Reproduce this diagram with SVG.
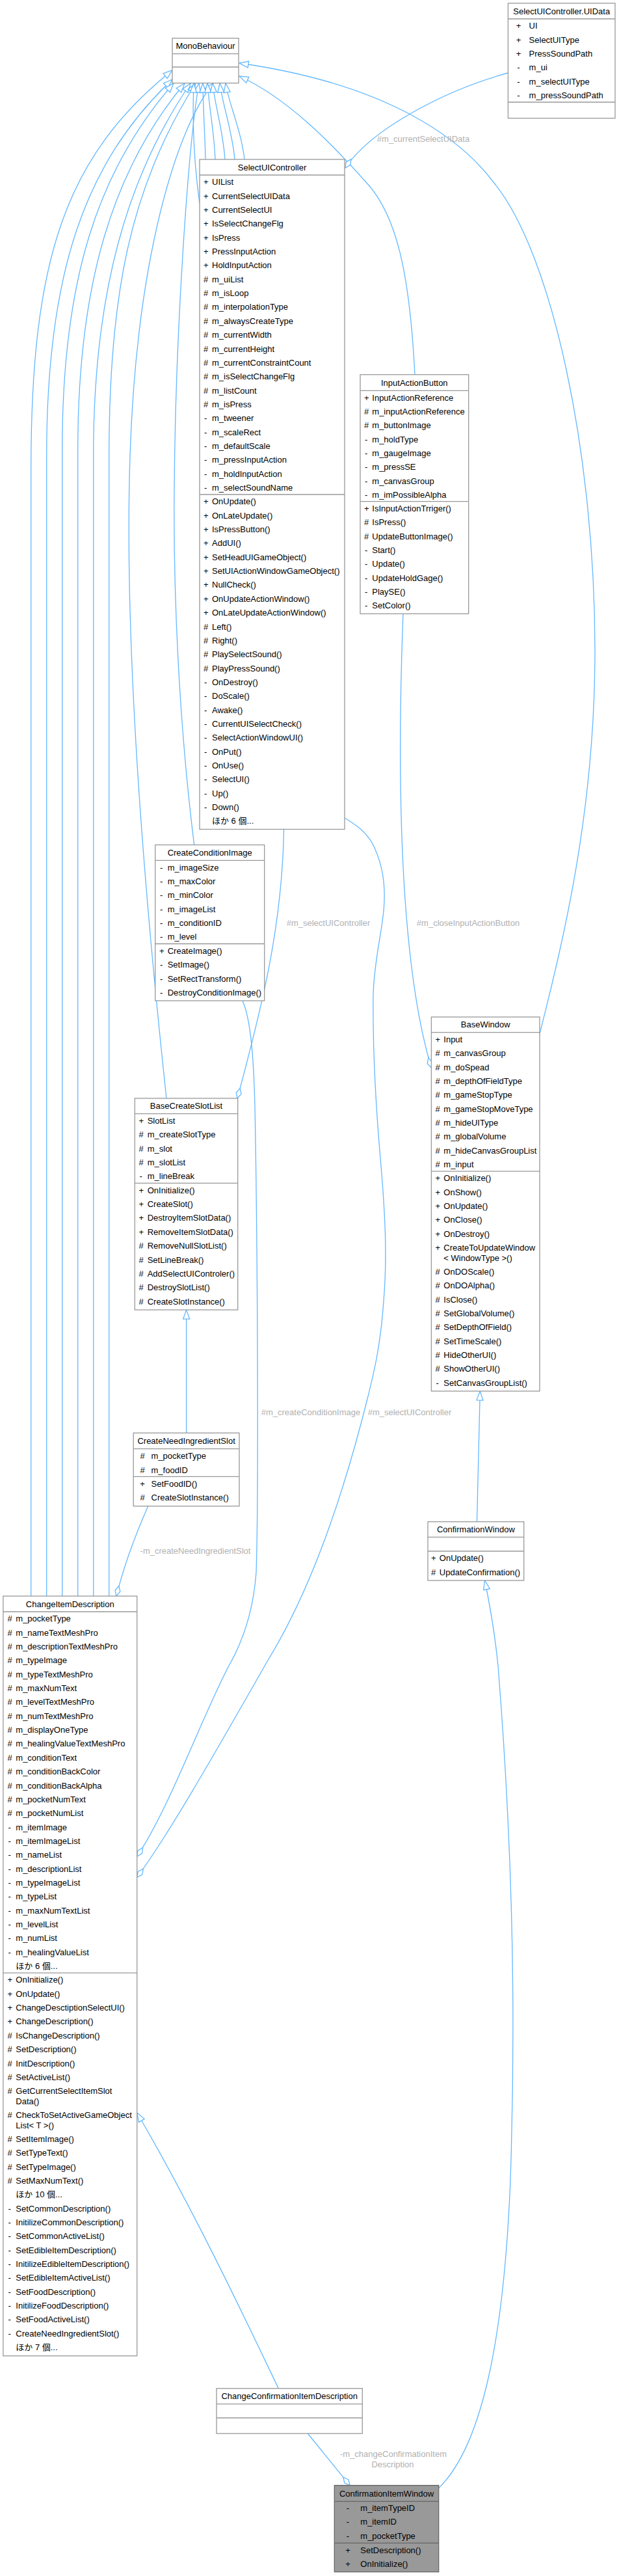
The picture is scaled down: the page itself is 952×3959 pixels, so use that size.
<svg xmlns="http://www.w3.org/2000/svg" width="952" height="3959" viewBox="0 0 952 3959">
<style>
.n{fill:#fff;stroke:#999;stroke-width:1.3}
.hl{fill:#999;stroke:#666;stroke-width:1.3}
.s{fill:none;stroke:#999;stroke-width:1.3}
.hs{fill:none;stroke:#666;stroke-width:1.3}
.t{font-family:"Liberation Sans",Arial,"Noto Sans CJK JP",sans-serif;font-size:13px;fill:#000}
.c{text-anchor:middle}
.lb{font-family:"Liberation Sans",Arial,sans-serif;font-size:13px;fill:#b0b0b0;text-anchor:middle}
.e{fill:none;stroke:#63b8ff;stroke-width:1.3}
.i{marker-end:url(#inh)}
.a{marker-end:url(#agg)}
</style>
<defs>
<marker id="inh" markerUnits="userSpaceOnUse" markerWidth="16" markerHeight="12" viewBox="0 0 16 12" refX="14.5" refY="6" orient="auto" overflow="visible"><path d="M0.5,1 L14.5,6 L0.5,11 Z" fill="#fff" stroke="#63b8ff" stroke-width="1.3"/></marker>
<marker id="agg" markerUnits="userSpaceOnUse" markerWidth="18" markerHeight="10" viewBox="0 0 18 10" refX="16.5" refY="5" orient="auto" overflow="visible"><path d="M0.5,5 L8.5,1 L16.5,5 L8.5,9 Z" fill="#fff" stroke="#63b8ff" stroke-width="1.3"/></marker>
</defs>
<rect width="952" height="3959" fill="#fff"/>
<g id="connectors">
<path class="e i" d="M47.7,2453V720C47.7,400 100,240 265,108"/>
<path class="e i" d="M71.7,2453V700C71.7,420 130,250 265,122"/>
<path class="e i" d="M95.7,2453V690C95.7,430 150,262 267,128"/>
<path class="e i" d="M119.7,2453V690C119.7,440 172,262 284,128"/>
<path class="e i" d="M143.7,2453V700C143.7,450 195,272 293,128"/>
<path class="e i" d="M167.7,2453V700C167.7,460 198,290 301,128"/>
<path class="e i" d="M256,1688C225,1400 190,1000 200,700C210,400 270,200 328,128"/>
<path class="e i" d="M298.7,1298.5C280,1150 266,950 268,750C270,500 290,220 306,128"/>
<path class="e i" d="M307,313C300,262 295,200 298,128"/>
<path class="e i" d="M316,245C315,200 312,160 312,128"/>
<path class="e i" d="M331,245C329,200 321,160 319,128"/>
<path class="e i" d="M346,245C343,200 330,160 327,128"/>
<path class="e i" d="M361,245C357,200 342,160 338,128"/>
<path class="e i" d="M376,245C371,200 352,160 347,128"/>
<path class="e i" d="M638,575.7C630,420 610,330 563,280C505,215 440,150 368,117"/>
<path class="e i" d="M830,1589C865,1450 915,1250 915,1000C915,700 850,390 759,280C710,215 600,130 368,97"/>
<path class="e i" d="M286.6,2202.3V2013.1"/>
<path class="e i" d="M733.5,2338.7L738.3,2138"/>
<path class="e i" d="M674.7,3824C740,3760 775,3600 785,3350C795,3050 785,2800 766,2560C760,2500 752,2460 745.6,2429"/>
<path class="e i" d="M428.3,3670.7C380,3570 300,3400 210.7,3247"/>
<path class="e a" d="M781.4,112C680,140 570,200 531,258"/>
<path class="e a" d="M436.6,1274.5C434,1420 405,1540 365,1688"/>
<path class="e a" d="M620,943.3C610,1200 615,1480 663.4,1641"/>
<path class="e a" d="M530,1257C548,1268 562,1278 572,1295C588,1325 594,1360 590,1400C586,1440 575,1480 574,1530C573,1620 578,1700 585,1780C592,1860 596,1930 590,2000C585,2070 575,2110 565,2150C530,2290 480,2440 413,2550C350,2660 260,2820 210.7,2885"/>
<path class="e a" d="M373,1538C385,1565 390,1620 392,1700C396,1900 398,2300 394,2417C390,2470 375,2520 352,2560C310,2640 260,2780 210.7,2853"/>
<path class="e a" d="M227.7,2314.7C210,2355 192,2400 179,2453"/>
<path class="e a" d="M473.3,3740L538,3819.7"/>
<text class="lb" x="651" y="217.9">#m_currentSelectUIData</text>
<text class="lb" x="505" y="1422.9">#m_selectUIController</text>
<text class="lb" x="720" y="1422.9">#m_closeInputActionButton</text>
<text class="lb" x="478" y="2175.3">#m_createConditionImage</text>
<text class="lb" x="630" y="2175.3">#m_selectUIController</text>
<text class="lb" x="300.5" y="2387.9">-m_createNeedIngredientSlot</text>
<text class="lb" x="605" y="3776.3">-m_changeConfirmationItem</text>
<text class="lb" x="604" y="3792.3">Description</text>
</g>
<g id="MonoBehaviour">
<rect class="n" x="265" y="58.7" width="102" height="69"/>
<path class="s" d="M265,82.7H367M265,103H367"/>
<text class="t c" x="316" y="75.3">MonoBehaviour</text>
</g>
<g id="SelectUIController.UIData">
<rect class="n" x="781.4" y="5" width="164.6" height="176.7"/>
<path class="s" d="M781.4,29H946M781.4,157H946"/>
<text class="t c" x="863.7" y="21.6">SelectUIController.UIData</text>
<text class="t c" x="797.5" y="44.3"><tspan x="797.5">+</tspan><tspan x="797.5" dy="21.35">+</tspan><tspan x="797.5" dy="21.35">+</tspan><tspan x="797.5" dy="21.35">-</tspan><tspan x="797.5" dy="21.35">-</tspan><tspan x="797.5" dy="21.35">-</tspan></text>
<text class="t" x="813.6" y="44.3"><tspan x="813.6">UI</tspan><tspan x="813.6" dy="21.35">SelectUIType</tspan><tspan x="813.6" dy="21.35">PressSoundPath</tspan><tspan x="813.6" dy="21.35">m_ui</tspan><tspan x="813.6" dy="21.35">m_selectUIType</tspan><tspan x="813.6" dy="21.35">m_pressSoundPath</tspan></text>
</g>
<g id="SelectUIController">
<rect class="n" x="307" y="245" width="223" height="1029.5"/>
<path class="s" d="M307,269H530M307,760H530"/>
<text class="t c" x="418.5" y="261.6">SelectUIController</text>
<text class="t" x="313" y="284.3"><tspan x="313">+</tspan><tspan x="313" dy="21.35">+</tspan><tspan x="313" dy="21.35">+</tspan><tspan x="313" dy="21.35">+</tspan><tspan x="313" dy="21.35">+</tspan><tspan x="313" dy="21.35">+</tspan><tspan x="313" dy="21.35">+</tspan><tspan x="313" dy="21.35">#</tspan><tspan x="313" dy="21.35">#</tspan><tspan x="313" dy="21.35">#</tspan><tspan x="313" dy="21.35">#</tspan><tspan x="313" dy="21.35">#</tspan><tspan x="313" dy="21.35">#</tspan><tspan x="313" dy="21.35">#</tspan><tspan x="313" dy="21.35">#</tspan><tspan x="313" dy="21.35">#</tspan><tspan x="313" dy="21.35">#</tspan><tspan x="314" dy="21.35">-</tspan><tspan x="314" dy="21.35">-</tspan><tspan x="314" dy="21.35">-</tspan><tspan x="314" dy="21.35">-</tspan><tspan x="314" dy="21.35">-</tspan><tspan x="314" dy="21.35">-</tspan></text>
<text class="t" x="326" y="284.3"><tspan x="326">UIList</tspan><tspan x="326" dy="21.35">CurrentSelectUIData</tspan><tspan x="326" dy="21.35">CurrentSelectUI</tspan><tspan x="326" dy="21.35">IsSelectChangeFlg</tspan><tspan x="326" dy="21.35">IsPress</tspan><tspan x="326" dy="21.35">PressInputAction</tspan><tspan x="326" dy="21.35">HoldInputAction</tspan><tspan x="326" dy="21.35">m_uiList</tspan><tspan x="326" dy="21.35">m_isLoop</tspan><tspan x="326" dy="21.35">m_interpolationType</tspan><tspan x="326" dy="21.35">m_alwaysCreateType</tspan><tspan x="326" dy="21.35">m_currentWidth</tspan><tspan x="326" dy="21.35">m_currentHeight</tspan><tspan x="326" dy="21.35">m_currentConstraintCount</tspan><tspan x="326" dy="21.35">m_isSelectChangeFlg</tspan><tspan x="326" dy="21.35">m_listCount</tspan><tspan x="326" dy="21.35">m_isPress</tspan><tspan x="326" dy="21.35">m_tweener</tspan><tspan x="326" dy="21.35">m_scaleRect</tspan><tspan x="326" dy="21.35">m_defaultScale</tspan><tspan x="326" dy="21.35">m_pressInputAction</tspan><tspan x="326" dy="21.35">m_holdInputAction</tspan><tspan x="326" dy="21.35">m_selectSoundName</tspan></text>
<text class="t" x="313" y="775.35"><tspan x="313">+</tspan><tspan x="313" dy="21.35">+</tspan><tspan x="313" dy="21.35">+</tspan><tspan x="313" dy="21.35">+</tspan><tspan x="313" dy="21.35">+</tspan><tspan x="313" dy="21.35">+</tspan><tspan x="313" dy="21.35">+</tspan><tspan x="313" dy="21.35">+</tspan><tspan x="313" dy="21.35">+</tspan><tspan x="313" dy="21.35">#</tspan><tspan x="313" dy="21.35">#</tspan><tspan x="313" dy="21.35">#</tspan><tspan x="313" dy="21.35">#</tspan><tspan x="314" dy="21.35">-</tspan><tspan x="314" dy="21.35">-</tspan><tspan x="314" dy="21.35">-</tspan><tspan x="314" dy="21.35">-</tspan><tspan x="314" dy="21.35">-</tspan><tspan x="314" dy="21.35">-</tspan><tspan x="314" dy="21.35">-</tspan><tspan x="314" dy="21.35">-</tspan><tspan x="314" dy="21.35">-</tspan><tspan x="314" dy="21.35">-</tspan></text>
<text class="t" x="326" y="775.35"><tspan x="326">OnUpdate()</tspan><tspan x="326" dy="21.35">OnLateUpdate()</tspan><tspan x="326" dy="21.35">IsPressButton()</tspan><tspan x="326" dy="21.35">AddUI()</tspan><tspan x="326" dy="21.35">SetHeadUIGameObject()</tspan><tspan x="326" dy="21.35">SetUIActionWindowGameObject()</tspan><tspan x="326" dy="21.35">NullCheck()</tspan><tspan x="326" dy="21.35">OnUpdateActionWindow()</tspan><tspan x="326" dy="21.35">OnLateUpdateActionWindow()</tspan><tspan x="326" dy="21.35">Left()</tspan><tspan x="326" dy="21.35">Right()</tspan><tspan x="326" dy="21.35">PlaySelectSound()</tspan><tspan x="326" dy="21.35">PlayPressSound()</tspan><tspan x="326" dy="21.35">OnDestroy()</tspan><tspan x="326" dy="21.35">DoScale()</tspan><tspan x="326" dy="21.35">Awake()</tspan><tspan x="326" dy="21.35">CurrentUISelectCheck()</tspan><tspan x="326" dy="21.35">SelectActionWindowUI()</tspan><tspan x="326" dy="21.35">OnPut()</tspan><tspan x="326" dy="21.35">OnUse()</tspan><tspan x="326" dy="21.35">SelectUI()</tspan><tspan x="326" dy="21.35">Up()</tspan><tspan x="326" dy="21.35">Down()</tspan><tspan x="326" dy="21.35">ほか 6 個...</tspan></text>
</g>
<g id="InputActionButton">
<rect class="n" x="554" y="575.7" width="166.7" height="367.6"/>
<path class="s" d="M554,600.3H720.7M554,770.7H720.7"/>
<text class="t c" x="637.3" y="592.6">InputActionButton</text>
<text class="t" x="560" y="615.6"><tspan x="560">+</tspan><tspan x="560" dy="21.35">#</tspan><tspan x="560" dy="21.35">#</tspan><tspan x="561" dy="21.35">-</tspan><tspan x="561" dy="21.35">-</tspan><tspan x="561" dy="21.35">-</tspan><tspan x="561" dy="21.35">-</tspan><tspan x="561" dy="21.35">-</tspan></text>
<text class="t" x="572.3" y="615.6"><tspan x="572.3">InputActionReference</tspan><tspan x="572.3" dy="21.35">m_inputActionReference</tspan><tspan x="572.3" dy="21.35">m_buttonImage</tspan><tspan x="572.3" dy="21.35">m_holdType</tspan><tspan x="572.3" dy="21.35">m_gaugeImage</tspan><tspan x="572.3" dy="21.35">m_pressSE</tspan><tspan x="572.3" dy="21.35">m_canvasGroup</tspan><tspan x="572.3" dy="21.35">m_imPossibleAlpha</tspan></text>
<text class="t" x="560" y="786"><tspan x="560">+</tspan><tspan x="560" dy="21.35">#</tspan><tspan x="560" dy="21.35">#</tspan><tspan x="561" dy="21.35">-</tspan><tspan x="561" dy="21.35">-</tspan><tspan x="561" dy="21.35">-</tspan><tspan x="561" dy="21.35">-</tspan><tspan x="561" dy="21.35">-</tspan></text>
<text class="t" x="572.3" y="786"><tspan x="572.3">IsInputActionTrriger()</tspan><tspan x="572.3" dy="21.35">IsPress()</tspan><tspan x="572.3" dy="21.35">UpdateButtonImage()</tspan><tspan x="572.3" dy="21.35">Start()</tspan><tspan x="572.3" dy="21.35">Update()</tspan><tspan x="572.3" dy="21.35">UpdateHoldGage()</tspan><tspan x="572.3" dy="21.35">PlaySE()</tspan><tspan x="572.3" dy="21.35">SetColor()</tspan></text>
</g>
<g id="CreateConditionImage">
<rect class="n" x="238.7" y="1298.5" width="168" height="239.5"/>
<path class="s" d="M238.7,1322.4H406.7M238.7,1450.5H406.7"/>
<text class="t c" x="322.7" y="1315.1">CreateConditionImage</text>
<text class="t" x="246" y="1337.7"><tspan x="246">-</tspan><tspan x="246" dy="21.35">-</tspan><tspan x="246" dy="21.35">-</tspan><tspan x="246" dy="21.35">-</tspan><tspan x="246" dy="21.35">-</tspan><tspan x="246" dy="21.35">-</tspan></text>
<text class="t" x="257.7" y="1337.7"><tspan x="257.7">m_imageSize</tspan><tspan x="257.7" dy="21.35">m_maxColor</tspan><tspan x="257.7" dy="21.35">m_minColor</tspan><tspan x="257.7" dy="21.35">m_imageList</tspan><tspan x="257.7" dy="21.35">m_conditionID</tspan><tspan x="257.7" dy="21.35">m_level</tspan></text>
<text class="t" x="245" y="1465.8"><tspan x="245">+</tspan><tspan x="246" dy="21.35">-</tspan><tspan x="246" dy="21.35">-</tspan><tspan x="246" dy="21.35">-</tspan></text>
<text class="t" x="257.7" y="1465.8"><tspan x="257.7">CreateImage()</tspan><tspan x="257.7" dy="21.35">SetImage()</tspan><tspan x="257.7" dy="21.35">SetRectTransform()</tspan><tspan x="257.7" dy="21.35">DestroyConditionImage()</tspan></text>
</g>
<g id="BaseCreateSlotList">
<rect class="n" x="207.3" y="1688" width="158.4" height="325.1"/>
<path class="s" d="M207.3,1711.7H365.7M207.3,1818.45H365.7"/>
<text class="t c" x="286.5" y="1704.45">BaseCreateSlotList</text>
<text class="t" x="213.5" y="1727"><tspan x="213.5">+</tspan><tspan x="213.5" dy="21.35">#</tspan><tspan x="213.5" dy="21.35">#</tspan><tspan x="213.5" dy="21.35">#</tspan><tspan x="214.5" dy="21.35">-</tspan></text>
<text class="t" x="226.7" y="1727"><tspan x="226.7">SlotList</tspan><tspan x="226.7" dy="21.35">m_createSlotType</tspan><tspan x="226.7" dy="21.35">m_slot</tspan><tspan x="226.7" dy="21.35">m_slotList</tspan><tspan x="226.7" dy="21.35">m_lineBreak</tspan></text>
<text class="t" x="213.5" y="1833.75"><tspan x="213.5">+</tspan><tspan x="213.5" dy="21.35">+</tspan><tspan x="213.5" dy="21.35">+</tspan><tspan x="213.5" dy="21.35">+</tspan><tspan x="213.5" dy="21.35">#</tspan><tspan x="213.5" dy="21.35">#</tspan><tspan x="213.5" dy="21.35">#</tspan><tspan x="213.5" dy="21.35">#</tspan><tspan x="213.5" dy="21.35">#</tspan></text>
<text class="t" x="226.7" y="1833.75"><tspan x="226.7">OnInitialize()</tspan><tspan x="226.7" dy="21.35">CreateSlot()</tspan><tspan x="226.7" dy="21.35">DestroyItemSlotData()</tspan><tspan x="226.7" dy="21.35">RemoveItemSlotData()</tspan><tspan x="226.7" dy="21.35">RemoveNullSlotList()</tspan><tspan x="226.7" dy="21.35">SetLineBreak()</tspan><tspan x="226.7" dy="21.35">AddSelectUIControler()</tspan><tspan x="226.7" dy="21.35">DestroySlotList()</tspan><tspan x="226.7" dy="21.35">CreateSlotInstance()</tspan></text>
</g>
<g id="BaseWindow">
<rect class="n" x="663.4" y="1563" width="166.6" height="575"/>
<path class="s" d="M663.4,1586.6H830M663.4,1800.1H830"/>
<text class="t c" x="746.7" y="1579.4">BaseWindow</text>
<text class="t" x="669.5" y="1601.9"><tspan x="669.5">+</tspan><tspan x="669.5" dy="21.35">#</tspan><tspan x="669.5" dy="21.35">#</tspan><tspan x="669.5" dy="21.35">#</tspan><tspan x="669.5" dy="21.35">#</tspan><tspan x="669.5" dy="21.35">#</tspan><tspan x="669.5" dy="21.35">#</tspan><tspan x="669.5" dy="21.35">#</tspan><tspan x="669.5" dy="21.35">#</tspan><tspan x="669.5" dy="21.35">#</tspan></text>
<text class="t" x="682.3" y="1601.9"><tspan x="682.3">Input</tspan><tspan x="682.3" dy="21.35">m_canvasGroup</tspan><tspan x="682.3" dy="21.35">m_doSpead</tspan><tspan x="682.3" dy="21.35">m_depthOfFieldType</tspan><tspan x="682.3" dy="21.35">m_gameStopType</tspan><tspan x="682.3" dy="21.35">m_gameStopMoveType</tspan><tspan x="682.3" dy="21.35">m_hideUIType</tspan><tspan x="682.3" dy="21.35">m_globalVolume</tspan><tspan x="682.3" dy="21.35">m_hideCanvasGroupList</tspan><tspan x="682.3" dy="21.35">m_input</tspan></text>
<text class="t" x="669.5" y="1815.4"><tspan x="669.5">+</tspan><tspan x="669.5" dy="21.35">+</tspan><tspan x="669.5" dy="21.35">+</tspan><tspan x="669.5" dy="21.35">+</tspan><tspan x="669.5" dy="21.35">+</tspan><tspan x="669.5" dy="21.35">+</tspan><tspan x="669.5" dy="36.85">#</tspan><tspan x="669.5" dy="21.35">#</tspan><tspan x="669.5" dy="21.35">#</tspan><tspan x="669.5" dy="21.35">#</tspan><tspan x="669.5" dy="21.35">#</tspan><tspan x="669.5" dy="21.35">#</tspan><tspan x="669.5" dy="21.35">#</tspan><tspan x="669.5" dy="21.35">#</tspan><tspan x="670.5" dy="21.35">-</tspan></text>
<text class="t" x="682.3" y="1815.4"><tspan x="682.3">OnInitialize()</tspan><tspan x="682.3" dy="21.35">OnShow()</tspan><tspan x="682.3" dy="21.35">OnUpdate()</tspan><tspan x="682.3" dy="21.35">OnClose()</tspan><tspan x="682.3" dy="21.35">OnDestroy()</tspan><tspan x="682.3" dy="21.35">CreateToUpdateWindow</tspan><tspan x="682.3" dy="15.5">&lt; WindowType &gt;()</tspan><tspan x="682.3" dy="21.35">OnDOScale()</tspan><tspan x="682.3" dy="21.35">OnDOAlpha()</tspan><tspan x="682.3" dy="21.35">IsClose()</tspan><tspan x="682.3" dy="21.35">SetGlobalVolume()</tspan><tspan x="682.3" dy="21.35">SetDepthOfField()</tspan><tspan x="682.3" dy="21.35">SetTimeScale()</tspan><tspan x="682.3" dy="21.35">HideOtherUI()</tspan><tspan x="682.3" dy="21.35">ShowOtherUI()</tspan><tspan x="682.3" dy="21.35">SetCanvasGroupList()</tspan></text>
</g>
<g id="CreateNeedIngredientSlot">
<rect class="n" x="205.2" y="2202.3" width="162.8" height="112.4"/>
<path class="s" d="M205.2,2226.7H368M205.2,2269.4H368"/>
<text class="t c" x="286.6" y="2219.1">CreateNeedIngredientSlot</text>
<text class="t c" x="219" y="2242.3"><tspan x="219">#</tspan><tspan x="219" dy="21.35">#</tspan></text>
<text class="t" x="232.5" y="2242.3"><tspan x="232.5">m_pocketType</tspan><tspan x="232.5" dy="21.35">m_foodID</tspan></text>
<text class="t c" x="219" y="2284.7"><tspan x="219">+</tspan><tspan x="219" dy="21.35">#</tspan></text>
<text class="t" x="232.5" y="2284.7"><tspan x="232.5">SetFoodID()</tspan><tspan x="232.5" dy="21.35">CreateSlotInstance()</tspan></text>
</g>
<g id="ConfirmationWindow">
<rect class="n" x="658" y="2338.7" width="147.7" height="90.3"/>
<path class="s" d="M658,2362.3H805.7M658,2384H805.7"/>
<text class="t c" x="731.85" y="2355.1">ConfirmationWindow</text>
<text class="t" x="663" y="2399.3"><tspan x="663">+</tspan><tspan x="663" dy="21.35">#</tspan></text>
<text class="t" x="675.8" y="2399.3"><tspan x="675.8">OnUpdate()</tspan><tspan x="675.8" dy="21.35">UpdateConfirmation()</tspan></text>
</g>
<g id="ChangeItemDescription">
<rect class="n" x="4.9" y="2453" width="205.8" height="1167.7"/>
<path class="s" d="M4.9,2477H210.7M4.9,3032.1H210.7"/>
<text class="t c" x="107.8" y="2469.6">ChangeItemDescription</text>
<text class="t" x="11.5" y="2492.3"><tspan x="11.5">#</tspan><tspan x="11.5" dy="21.35">#</tspan><tspan x="11.5" dy="21.35">#</tspan><tspan x="11.5" dy="21.35">#</tspan><tspan x="11.5" dy="21.35">#</tspan><tspan x="11.5" dy="21.35">#</tspan><tspan x="11.5" dy="21.35">#</tspan><tspan x="11.5" dy="21.35">#</tspan><tspan x="11.5" dy="21.35">#</tspan><tspan x="11.5" dy="21.35">#</tspan><tspan x="11.5" dy="21.35">#</tspan><tspan x="11.5" dy="21.35">#</tspan><tspan x="11.5" dy="21.35">#</tspan><tspan x="11.5" dy="21.35">#</tspan><tspan x="11.5" dy="21.35">#</tspan><tspan x="12.5" dy="21.35">-</tspan><tspan x="12.5" dy="21.35">-</tspan><tspan x="12.5" dy="21.35">-</tspan><tspan x="12.5" dy="21.35">-</tspan><tspan x="12.5" dy="21.35">-</tspan><tspan x="12.5" dy="21.35">-</tspan><tspan x="12.5" dy="21.35">-</tspan><tspan x="12.5" dy="21.35">-</tspan><tspan x="12.5" dy="21.35">-</tspan><tspan x="12.5" dy="21.35">-</tspan></text>
<text class="t" x="24.3" y="2492.3"><tspan x="24.3">m_pocketType</tspan><tspan x="24.3" dy="21.35">m_nameTextMeshPro</tspan><tspan x="24.3" dy="21.35">m_descriptionTextMeshPro</tspan><tspan x="24.3" dy="21.35">m_typeImage</tspan><tspan x="24.3" dy="21.35">m_typeTextMeshPro</tspan><tspan x="24.3" dy="21.35">m_maxNumText</tspan><tspan x="24.3" dy="21.35">m_levelTextMeshPro</tspan><tspan x="24.3" dy="21.35">m_numTextMeshPro</tspan><tspan x="24.3" dy="21.35">m_displayOneType</tspan><tspan x="24.3" dy="21.35">m_healingValueTextMeshPro</tspan><tspan x="24.3" dy="21.35">m_conditionText</tspan><tspan x="24.3" dy="21.35">m_conditionBackColor</tspan><tspan x="24.3" dy="21.35">m_conditionBackAlpha</tspan><tspan x="24.3" dy="21.35">m_pocketNumText</tspan><tspan x="24.3" dy="21.35">m_pocketNumList</tspan><tspan x="24.3" dy="21.35">m_itemImage</tspan><tspan x="24.3" dy="21.35">m_itemImageList</tspan><tspan x="24.3" dy="21.35">m_nameList</tspan><tspan x="24.3" dy="21.35">m_descriptionList</tspan><tspan x="24.3" dy="21.35">m_typeImageList</tspan><tspan x="24.3" dy="21.35">m_typeList</tspan><tspan x="24.3" dy="21.35">m_maxNumTextList</tspan><tspan x="24.3" dy="21.35">m_levelList</tspan><tspan x="24.3" dy="21.35">m_numList</tspan><tspan x="24.3" dy="21.35">m_healingValueList</tspan><tspan x="24.3" dy="21.35">ほか 6 個...</tspan></text>
<text class="t" x="11.5" y="3047.4"><tspan x="11.5">+</tspan><tspan x="11.5" dy="21.35">+</tspan><tspan x="11.5" dy="21.35">+</tspan><tspan x="11.5" dy="21.35">+</tspan><tspan x="11.5" dy="21.35">#</tspan><tspan x="11.5" dy="21.35">#</tspan><tspan x="11.5" dy="21.35">#</tspan><tspan x="11.5" dy="21.35">#</tspan><tspan x="11.5" dy="21.35">#</tspan><tspan x="11.5" dy="36.85">#</tspan><tspan x="11.5" dy="36.85">#</tspan><tspan x="11.5" dy="21.35">#</tspan><tspan x="11.5" dy="21.35">#</tspan><tspan x="11.5" dy="21.35">#</tspan><tspan x="12.5" dy="42.7">-</tspan><tspan x="12.5" dy="21.35">-</tspan><tspan x="12.5" dy="21.35">-</tspan><tspan x="12.5" dy="21.35">-</tspan><tspan x="12.5" dy="21.35">-</tspan><tspan x="12.5" dy="21.35">-</tspan><tspan x="12.5" dy="21.35">-</tspan><tspan x="12.5" dy="21.35">-</tspan><tspan x="12.5" dy="21.35">-</tspan><tspan x="12.5" dy="21.35">-</tspan></text>
<text class="t" x="24.3" y="3047.4"><tspan x="24.3">OnInitialize()</tspan><tspan x="24.3" dy="21.35">OnUpdate()</tspan><tspan x="24.3" dy="21.35">ChangeDesctiptionSelectUI()</tspan><tspan x="24.3" dy="21.35">ChangeDescription()</tspan><tspan x="24.3" dy="21.35">IsChangeDescription()</tspan><tspan x="24.3" dy="21.35">SetDescription()</tspan><tspan x="24.3" dy="21.35">InitDescription()</tspan><tspan x="24.3" dy="21.35">SetActiveList()</tspan><tspan x="24.3" dy="21.35">GetCurrentSelectItemSlot</tspan><tspan x="24.3" dy="15.5">Data()</tspan><tspan x="24.3" dy="21.35">CheckToSetActiveGameObject</tspan><tspan x="24.3" dy="15.5">List&lt; T &gt;()</tspan><tspan x="24.3" dy="21.35">SetItemImage()</tspan><tspan x="24.3" dy="21.35">SetTypeText()</tspan><tspan x="24.3" dy="21.35">SetTypeImage()</tspan><tspan x="24.3" dy="21.35">SetMaxNumText()</tspan><tspan x="24.3" dy="21.35">ほか 10 個...</tspan><tspan x="24.3" dy="21.35">SetCommonDescription()</tspan><tspan x="24.3" dy="21.35">InitilizeCommonDescription()</tspan><tspan x="24.3" dy="21.35">SetCommonActiveList()</tspan><tspan x="24.3" dy="21.35">SetEdibleItemDescription()</tspan><tspan x="24.3" dy="21.35">InitilizeEdibleItemDescription()</tspan><tspan x="24.3" dy="21.35">SetEdibleItemActiveList()</tspan><tspan x="24.3" dy="21.35">SetFoodDescription()</tspan><tspan x="24.3" dy="21.35">InitilizeFoodDescription()</tspan><tspan x="24.3" dy="21.35">SetFoodActiveList()</tspan><tspan x="24.3" dy="21.35">CreateNeedIngredientSlot()</tspan><tspan x="24.3" dy="21.35">ほか 7 個...</tspan></text>
</g>
<g id="ChangeConfirmationItemDescription">
<rect class="n" x="333" y="3670.7" width="224.3" height="69.3"/>
<path class="s" d="M333,3694.7H557.3M333,3716H557.3"/>
<text class="t c" x="445.15" y="3687.3">ChangeConfirmationItemDescription</text>
</g>
<g id="ConfirmationItemWindow">
<rect class="hl" x="514.3" y="3819.7" width="160.4" height="133"/>
<path class="hs" d="M514.3,3844.3H674.7M514.3,3908.35H674.7"/>
<text class="t c" x="594.5" y="3836.6">ConfirmationItemWindow</text>
<text class="t c" x="535" y="3858.9"><tspan x="535">-</tspan><tspan x="535" dy="21.35">-</tspan><tspan x="535" dy="21.35">-</tspan></text>
<text class="t" x="554.3" y="3858.9"><tspan x="554.3">m_itemTypeID</tspan><tspan x="554.3" dy="21.35">m_itemID</tspan><tspan x="554.3" dy="21.35">m_pocketType</tspan></text>
<text class="t c" x="535" y="3923.65"><tspan x="535">+</tspan><tspan x="535" dy="21.35">+</tspan></text>
<text class="t" x="554.3" y="3923.65"><tspan x="554.3">SetDescription()</tspan><tspan x="554.3" dy="21.35">OnInitialize()</tspan></text>
</g>
</svg>
